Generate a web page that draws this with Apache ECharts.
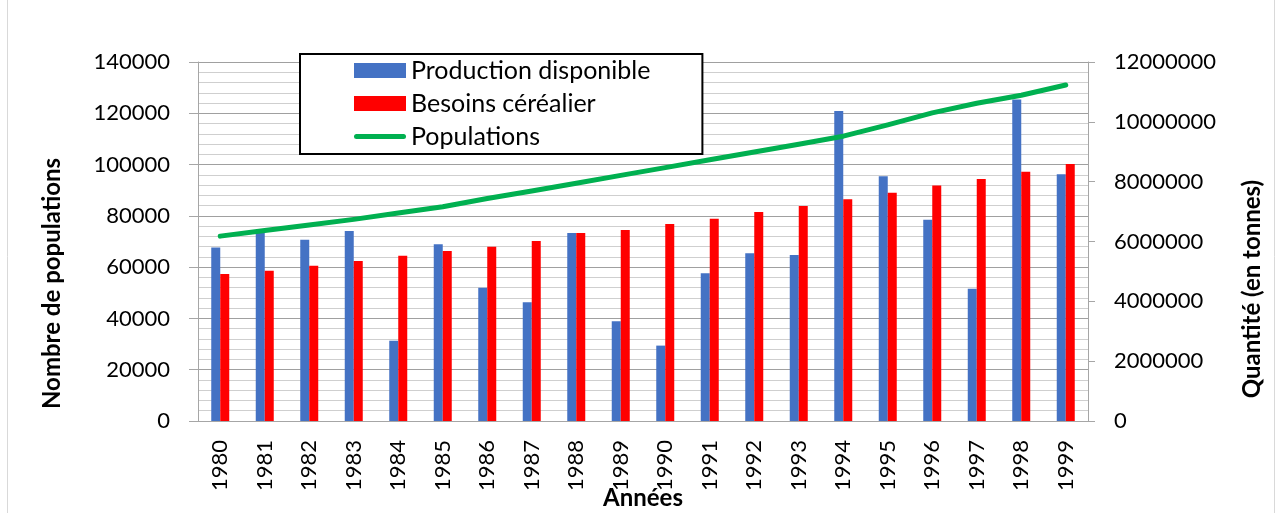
<!DOCTYPE html>
<html>
<head>
<meta charset="utf-8">
<script src="https://cdn.jsdelivr.net/npm/echarts@6/dist/echarts.min.js"></script>
<style>
  html, body { margin: 0; padding: 0; background: #fff; }
  #chart { width: 1277px; height: 513px; }
</style>
</head>
<body>
<div id="chart"></div>
<script>
// --- données ---
const years = ['1980', '1981', '1982', '1983', '1984', '1985', '1986', '1987', '1988', '1989',
  '1990', '1991', '1992', '1993', '1994', '1995', '1996', '1997', '1998', '1999'];

const production = [67700, 74000, 70700, 74100, 31300, 68900, 52000, 46300, 73300, 38900,
  29400, 57600, 65400, 64700, 120900, 95400, 78500, 51600, 125400, 96200];

const besoins = [57300, 58600, 60500, 62400, 64400, 66300, 68000, 70200, 73300, 74500,
  76800, 78900, 81500, 83800, 86500, 89000, 91800, 94400, 97200, 100200];

const populations = [6180000, 6370000, 6550000, 6740000, 6950000, 7160000, 7440000, 7690000, 7950000, 8210000,
  8470000, 8730000, 8990000, 9250000, 9520000, 9900000, 10300000, 10620000, 10890000, 11230000];

const FONT = 'Lato';
const AXIS_GREY = '#a6a6a6';
// icône de légende : trait épais à bouts arrondis
const LINE_ICON = 'path://M2.5,0 H49.5 A2.5,2.5 0 0 1 49.5,5 H2.5 A2.5,2.5 0 0 1 2.5,0 Z';

const chart = echarts.init(document.getElementById('chart'));

const plain = (v) => String(v);
const titleStyle = { fontFamily: FONT, fontSize: 24, fontWeight: 'bold', color: '#000' };

const option = {
  animation: false,
  backgroundColor: '#fff',
  textStyle: { fontFamily: FONT },
  grid: { left: 198, right: 189, top: 62, bottom: 92, containLabel: false, outerBoundsMode: 'none' },
  legend: {
    orient: 'vertical',
    left: 300,
    top: 54,
    padding: [4, 52, 5, 54],
    borderColor: '#000',
    borderWidth: 2,
    backgroundColor: '#fff',
    itemWidth: 52,
    itemHeight: 15,
    itemGap: 8,
    textStyle: { fontFamily: FONT, fontSize: 25, color: '#000' },
    data: [
      { name: 'Production disponible', icon: 'rect' },
      { name: 'Besoins céréalier', icon: 'rect' },
      { name: 'Populations', icon: LINE_ICON }
    ]
  },
  xAxis: {
    type: 'category',
    data: years,
    axisLine: { lineStyle: { color: AXIS_GREY, width: 1 } },
    axisTick: { show: false },
    axisLabel: { rotate: 90, margin: 19, fontSize: 22, color: '#000', fontFamily: FONT },
    name: 'Années',
    nameLocation: 'middle',
    nameGap: 65,
    nameMoveOverlap: false,
    nameTextStyle: titleStyle
  },
  yAxis: [
    {
      type: 'value',
      position: 'left',
      min: 0,
      max: 140000,
      interval: 20000,
      axisLine: { show: true, lineStyle: { color: AXIS_GREY } },
      axisTick: { show: true, length: 9, lineStyle: { color: AXIS_GREY } },
      axisLabel: { margin: 28, fontSize: 22, color: '#000', fontFamily: FONT, formatter: plain },
      splitLine: { show: true, lineStyle: { color: '#a0a0a0', width: 1 } },
      minorTick: { show: false, splitNumber: 5 },
      minorSplitLine: { show: true, lineStyle: { color: '#cfcfcf', width: 1 } },
      name: 'Nombre de populations',
      nameLocation: 'middle',
      nameRotate: 90,
      nameGap: 134,
      nameMoveOverlap: false,
      nameTextStyle: Object.assign({}, titleStyle, { padding: [0, 84, 0, 0] })
    },
    {
      type: 'value',
      position: 'right',
      min: 0,
      max: 12000000,
      interval: 2000000,
      axisLine: { show: true, lineStyle: { color: AXIS_GREY } },
      axisTick: { show: true, length: 7, lineStyle: { color: AXIS_GREY } },
      axisLabel: { margin: 26, fontSize: 22, color: '#000', fontFamily: FONT, formatter: plain },
      splitLine: { show: false },
      name: 'Quantité (en tonnes)',
      nameLocation: 'middle',
      nameRotate: 90,
      nameGap: 152,
      nameMoveOverlap: false,
      nameTextStyle: Object.assign({}, titleStyle, { padding: [0, 95, 0, 0] })
    }
  ],
  series: [
    {
      name: 'Production disponible',
      type: 'bar',
      yAxisIndex: 0,
      data: production,
      barWidth: 9,
      barGap: '0%',
      itemStyle: { color: '#4472c4' }
    },
    {
      name: 'Besoins céréalier',
      type: 'bar',
      yAxisIndex: 0,
      data: besoins,
      barWidth: 9,
      barGap: '0%',
      itemStyle: { color: '#ff0000' }
    },
    {
      name: 'Populations',
      type: 'line',
      yAxisIndex: 1,
      data: populations,
      symbol: 'none',
      smooth: false,
      lineStyle: { color: '#00b050', width: 5, cap: 'round', join: 'round' },
      itemStyle: { color: '#00b050' },
      z: 5
    }
  ],
  graphic: [
    // cadre du graphique (bords gauche et droit)
    { type: 'line', shape: { x1: 7.5, y1: 0, x2: 7.5, y2: 513 }, style: { stroke: '#d9d9d9', lineWidth: 1 } },
    { type: 'line', shape: { x1: 1274.5, y1: 0, x2: 1274.5, y2: 513 }, style: { stroke: '#d9d9d9', lineWidth: 1 } }
  ]
};

chart.setOption(option);
</script>
</body>
</html>
